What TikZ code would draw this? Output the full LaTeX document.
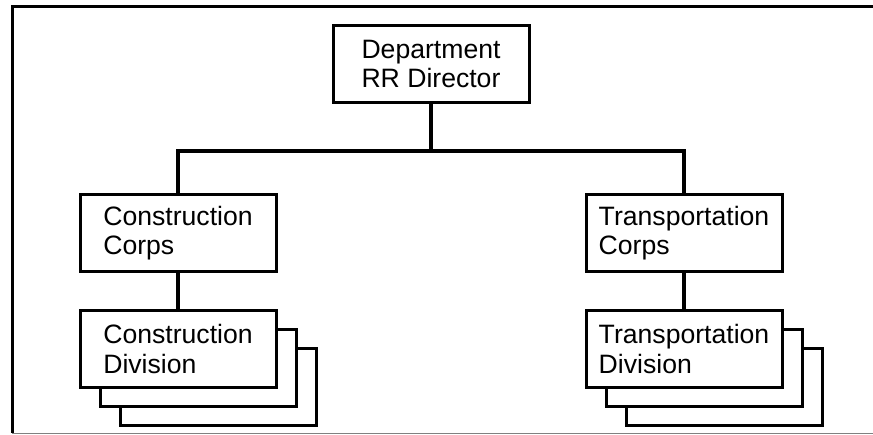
\documentclass[tikz,border=0pt]{standalone}
\usepackage{fontspec}
\setmainfont{Liberation Sans}

\begin{document}
\begin{tikzpicture}[box/.style={draw,fill=white,line width=3pt,minimum width=196pt,minimum height=77pt,align=left,font=\fontsize{26.6pt}{29.5pt}\selectfont}, link/.style={line width=4.5pt}, node distance = 116pt]
          \useasboundingbox (0,0) rectangle (873pt,-435pt);
          \coordinate (tr) at (873pt,-6.5pt);
          \coordinate (tl) at (12pt,-6.5pt);
          \coordinate (bl) at (12pt,-433.5pt);
          \coordinate (br) at (873pt,-433.5pt);
          \draw[line width=3pt] (tr) -- (tl) -- (bl);
          \draw[gray,line width=1.2pt] (bl) -- (br);
          \node[box](dir)    at (431pt,-64pt)  {Department\\RR Director};
          \node[box](corpsC) [node distance=169pt, below of = dir, xshift=-253pt] {Construction\\Corps};
          \node[box](corpsT) [node distance=169pt, below of = dir, xshift=253pt]  {Transportation\\Corps};
          \node[box](divC3)  [below of = corpsC, xshift=40pt, yshift=-38pt] {};
          \node[box](divC2)  [below of = corpsC, xshift=20pt, yshift=-19pt] {};
          \node[box](divC)   [below of = corpsC] {Construction\\Division};
          \node[box](divT3)  [below of = corpsT, xshift=40pt, yshift=-38pt] {};
          \node[box](divT2)  [below of = corpsT, xshift=20pt, yshift=-19pt] {};
          \node[box](divT)   [below of = corpsT] {Transportation\\Division};
          \coordinate (bar)  at ([yshift=-87pt]dir.center);
        \draw[link] (dir) -- (bar);
        \draw[link] (corpsC.north) |- (bar) -| (corpsT.north);
        \path[link]
          (corpsC) edge (divC)
          (corpsT) edge (divT)
          ;
      \end{tikzpicture}
\end{document}
